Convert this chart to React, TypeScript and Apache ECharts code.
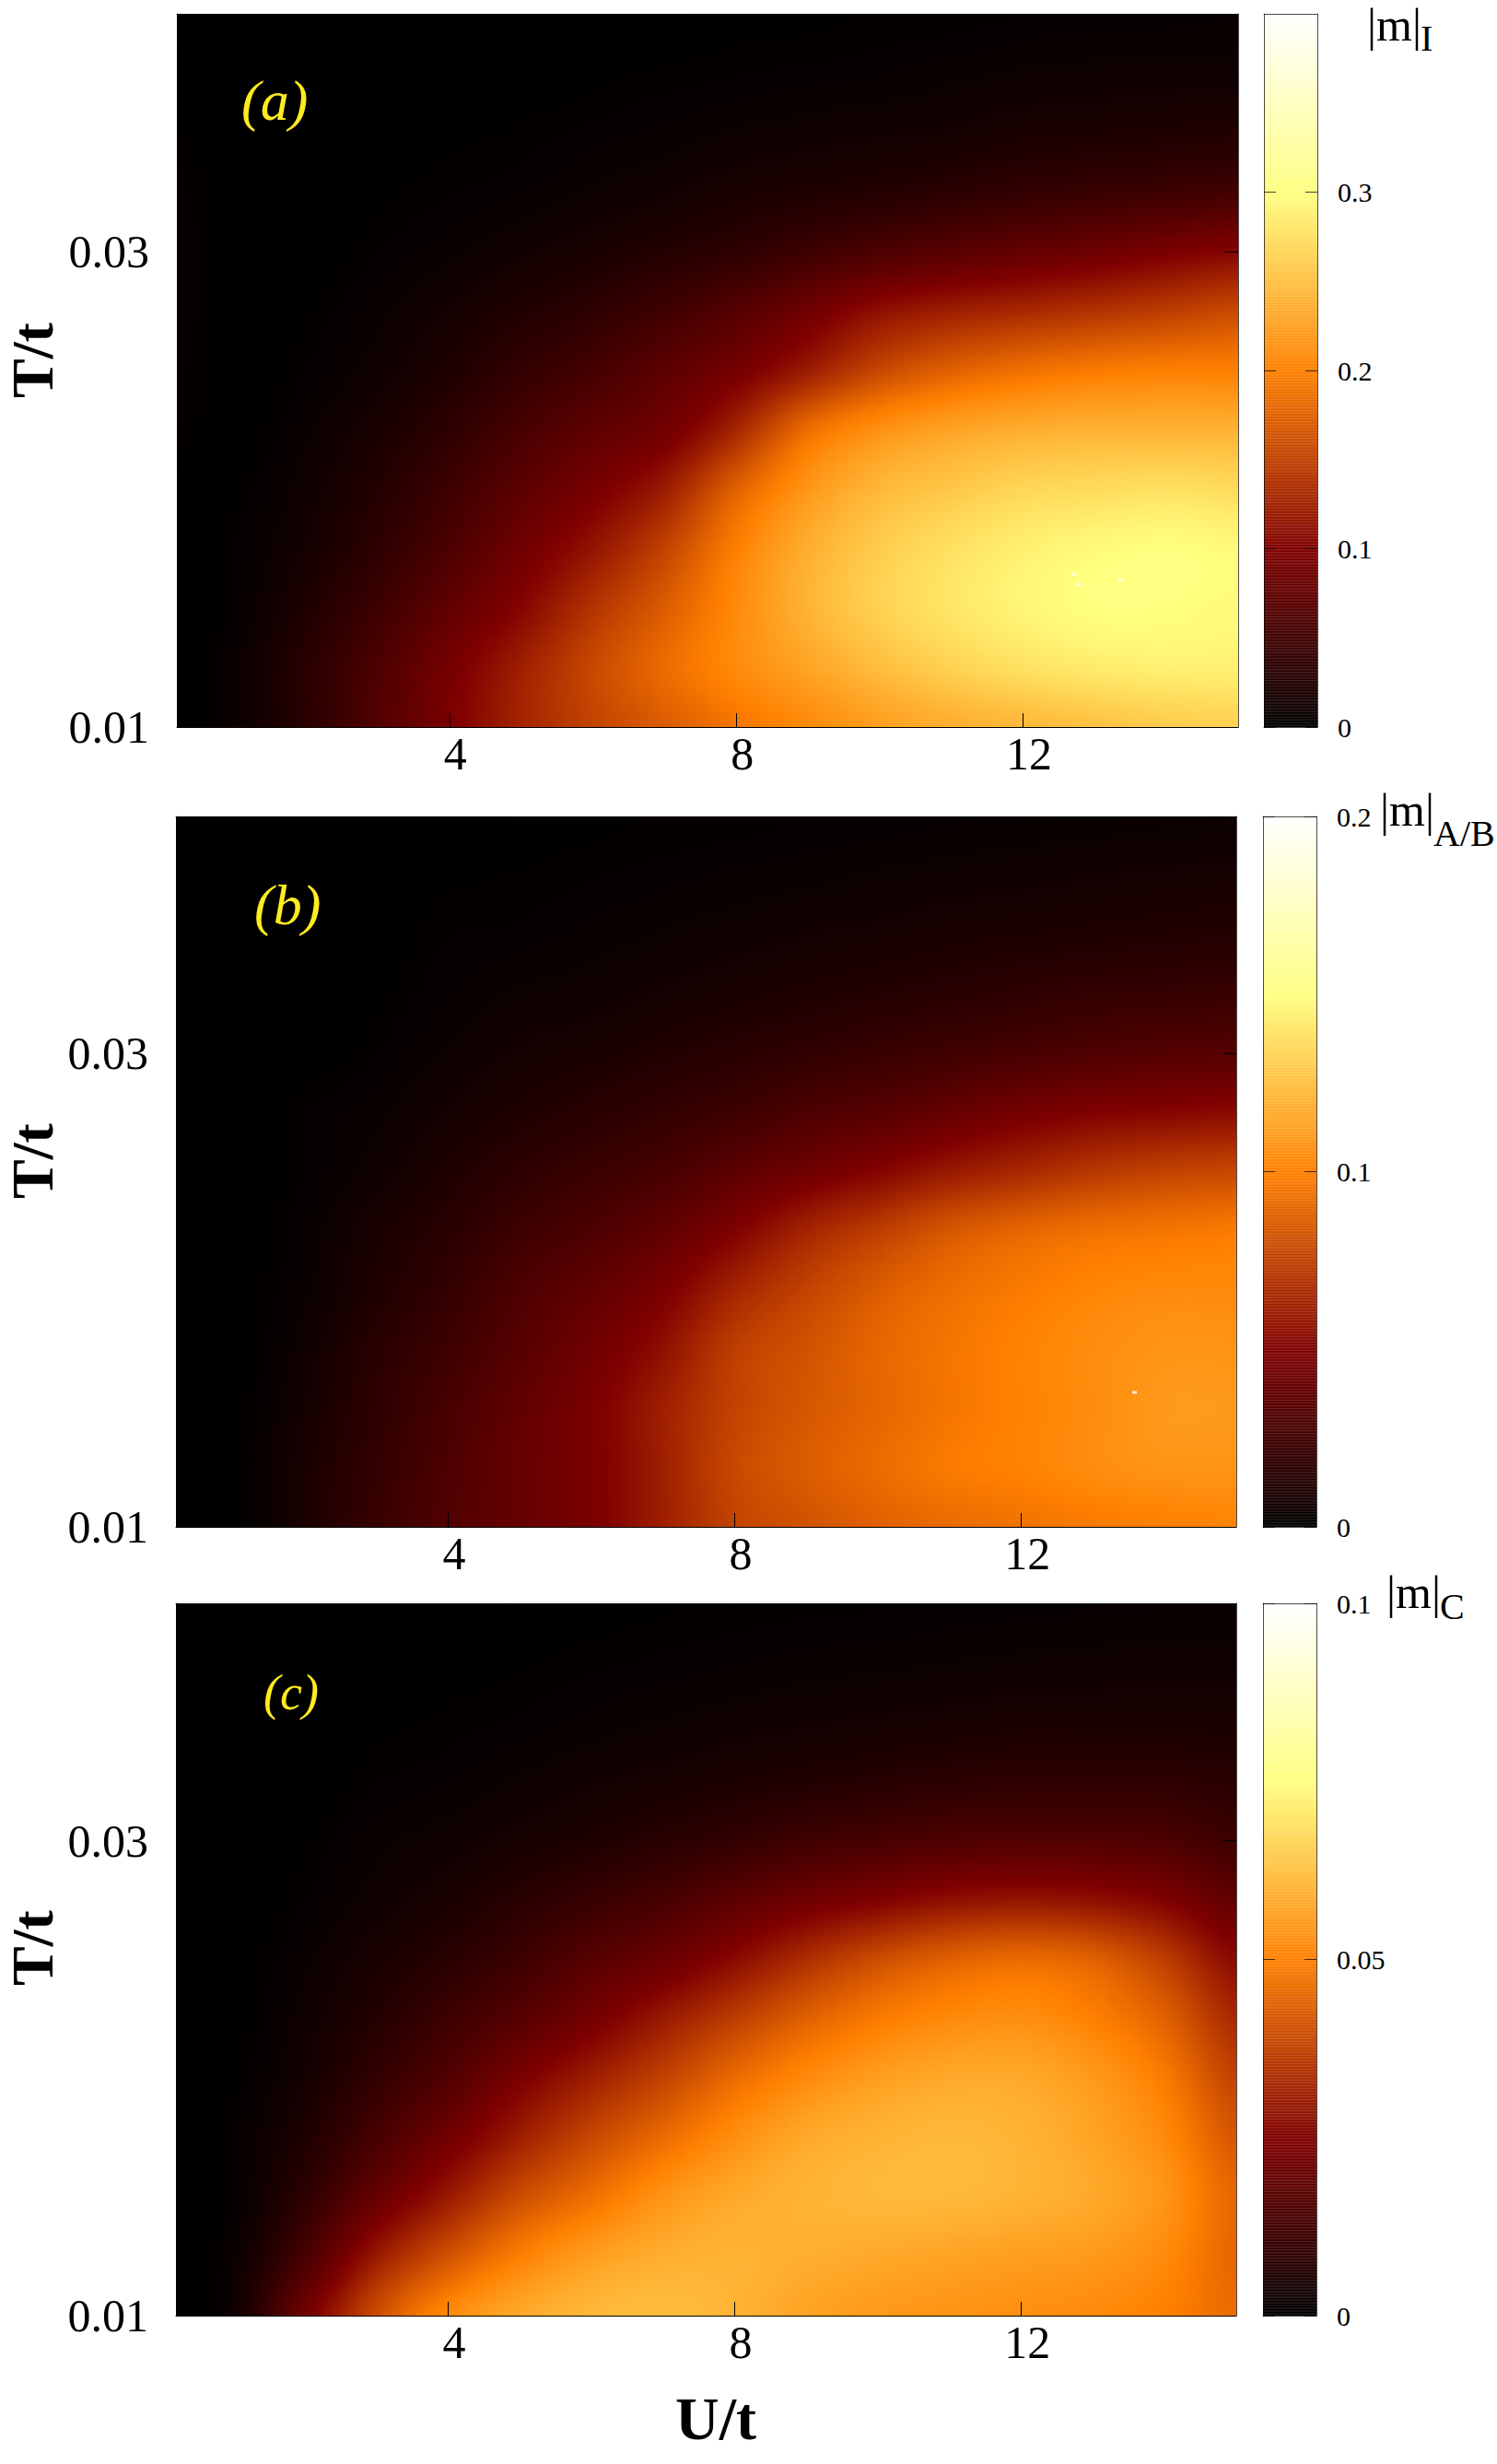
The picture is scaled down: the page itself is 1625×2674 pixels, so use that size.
import React, { useEffect, useRef } from "react";
import * as echarts from "echarts";

const U_NODES = [0.2, 1, 2, 3, 4, 5, 6, 7, 8, 9, 10, 11, 12, 13, 14, 15];
const T_NODES = [0.01, 0.0125, 0.015, 0.0175, 0.02, 0.0225, 0.025, 0.0275, 0.03, 0.0325, 0.035, 0.0375, 0.04];

const M_I = [
  [0, .008, .032, .064, .096, .128, .152, .172, .192, .208, .224, .236, .244, .252, .26, .264],
  [0, .008, .032, .06, .092, .124, .156, .184, .208, .228, .248, .264, .276, .284, .288, .288],
  [0, .004, .024, .048, .076, .104, .14, .172, .208, .24, .264, .28, .292, .3, .3, .296],
  [0, .004, .016, .036, .06, .088, .116, .152, .2, .236, .26, .276, .288, .296, .3, .296],
  [0, .002, .012, .028, .048, .072, .094, .122, .176, .218, .244, .256, .268, .272, .276, .272],
  [.004, 0, .008, .02, .036, .056, .074, .09, .13, .186, .214, .228, .236, .24, .24, .24],
  [.005, 0, .004, .012, .024, .04, .054, .072, .092, .122, .156, .176, .188, .196, .2, .2],
  [.006, 0, .002, .008, .016, .026, .036, .05, .066, .088, .112, .124, .132, .14, .148, .158],
  [.006, 0, 0, .004, .008, .014, .02, .028, .036, .048, .06, .07, .078, .086, .096, .104],
  [.005, 0, 0, .002, .004, .006, .01, .014, .02, .024, .028, .034, .04, .044, .048, .052],
  [.003, 0, 0, 0, .002, .003, .005, .007, .01, .012, .014, .016, .02, .022, .024, .026],
  [.002, 0, 0, 0, 0, .001, .002, .003, .004, .005, .006, .008, .01, .011, .012, .012],
  [0, 0, 0, 0, 0, 0, .001, .001, .002, .002, .003, .003, .004, .005, .005, .006],
];
const M_AB = [
  [0, 0, .01, .022, .032, .04, .048, .062, .076, .082, .088, .092, .095, .098, .1, .102],
  [0, 0, .01, .02, .03, .04, .048, .062, .078, .086, .092, .098, .101, .105, .108, .108],
  [0, 0, .008, .018, .028, .038, .048, .062, .076, .084, .09, .096, .101, .105, .11, .11],
  [0, 0, .006, .016, .024, .034, .044, .056, .074, .082, .09, .096, .101, .105, .108, .108],
  [0, 0, .004, .012, .02, .03, .038, .048, .064, .076, .086, .093, .098, .102, .104, .104],
  [0, 0, .003, .01, .016, .024, .03, .038, .05, .064, .074, .084, .09, .094, .096, .098],
  [0, 0, .002, .006, .012, .018, .023, .028, .036, .044, .052, .06, .066, .072, .076, .078],
  [0, 0, .002, .004, .008, .012, .016, .02, .024, .03, .034, .04, .046, .05, .052, .054],
  [0, 0, 0, .002, .005, .008, .01, .013, .016, .019, .022, .025, .028, .031, .033, .034],
  [0, 0, 0, .001, .003, .005, .006, .008, .01, .012, .014, .016, .018, .02, .021, .022],
  [0, 0, 0, 0, .002, .0024, .0036, .0048, .006, .0074, .0084, .01, .011, .012, .013, .014],
  [0, 0, 0, 0, .001, .0014, .002, .0026, .0034, .004, .0048, .0056, .0064, .0072, .008, .0084],
  [0, 0, 0, 0, 0, .0006, .001, .0014, .0016, .002, .0024, .0028, .0032, .0036, .004, .0044],
];
const M_C = [
  [0, .003, .022, .04, .052, .058, .061, .062, .06, .057, .055, .054, .053, .052, .05, .046],
  [0, .002, .014, .03, .041, .05, .056, .059, .06, .059, .058, .057, .056, .055, .052, .045],
  [0, .001, .009, .02, .03, .04, .047, .054, .058, .06, .061, .061, .06, .058, .054, .045],
  [0, .001, .006, .014, .022, .031, .039, .046, .053, .058, .06, .061, .06, .057, .052, .042],
  [0, .0005, .004, .01, .016, .024, .031, .038, .046, .052, .056, .058, .058, .055, .049, .038],
  [0, 0, .003, .007, .012, .017, .023, .03, .037, .044, .049, .052, .053, .05, .044, .033],
  [0, 0, .002, .005, .008, .012, .017, .021, .027, .034, .04, .044, .046, .044, .037, .027],
  [0, 0, .001, .003, .005, .008, .011, .014, .018, .022, .025, .028, .029, .028, .025, .019],
  [0, 0, .0005, .002, .003, .0045, .006, .008, .01, .0125, .014, .0155, .016, .016, .015, .012],
  [0, 0, 0, .001, .0015, .0025, .0035, .0045, .0055, .0065, .0075, .0085, .009, .009, .009, .008],
  [0, 0, 0, .0005, .0008, .0012, .0018, .0024, .003, .0035, .004, .0045, .005, .005, .005, .005],
  [0, 0, 0, 0, .0004, .0006, .0009, .0012, .0015, .0018, .002, .0023, .0026, .0028, .003, .003],
  [0, 0, 0, 0, 0, .0003, .0004, .0006, .0008, .0009, .001, .0012, .0013, .0014, .0015, .0016],
];

const X_TICKS = [4, 8, 12];
const Y_TICKS = [0.01, 0.03];
const CB_TICKS_I = [0, 0.1, 0.2, 0.3];
const CB_TICKS_AB = [0, 0.1, 0.2];
const CB_TICKS_C = [0, 0.05, 0.1];
const SPECKS_I = [[12.71, 0.01643], [12.78, 0.0160], [13.36, 0.01616]];
const SPECKS_AB = [[13.58, 0.01568]];

const SERIF = "Liberation Serif";
const clamp01 = (x: number) => Math.max(0, Math.min(1, x));
// AFM-hot palette (gnuplot rgbformulae 34,35,36)
const rgb = (f: number) => {
  const r = clamp01(2 * f), g = clamp01(2 * f - 0.5), b = clamp01(2 * f - 1);
  return [r * 255, g * 255, b * 255];
};
const css = (c: number[]) => `rgb(${Math.round(c[0])},${Math.round(c[1])},${Math.round(c[2])})`;
const cr = (a: number, b: number, c: number, d: number, t: number) =>
  0.5 * (2 * b + (c - a) * t + (2 * a - 5 * b + 4 * c - d) * t * t + (3 * b - a - 3 * c + d) * t * t * t);

// Smooth shading of one table row span, like gnuplot's "pm3d interpolate".
function fieldRenderer(table: number[][], max: number) {
  return (_p: any, api: any) => {
    const j = api.value(0) as number;
    const nRow = table.length;
    const nCol = U_NODES.length;
    const yBot = Math.round(api.coord([U_NODES[0], T_NODES[j]])[1]);
    const yTop = Math.round(api.coord([U_NODES[0], T_NODES[j + 1]])[1]);
    const xL = api.coord([U_NODES[0], T_NODES[0]])[0];
    const xR = api.coord([U_NODES[nCol - 1], T_NODES[0]])[0];
    const children: any[] = [];
    const step = 3;
    for (let y = yTop; y < yBot; y += step) {
      const h = Math.min(step, yBot - y);
      const t = (yBot - (y + h / 2)) / (yBot - yTop);
      const r0 = table[Math.max(0, j - 1)], r1 = table[j], r2 = table[j + 1], r3 = table[Math.min(nRow - 1, j + 2)];
      const row = U_NODES.map((_u, i) => cr(r0[i], r1[i], r2[i], r3[i], t));
      const stops: any[] = [];
      for (let i = 0; i < nCol - 1; i++) {
        const x0 = api.coord([U_NODES[i], T_NODES[0]])[0];
        const x1 = api.coord([U_NODES[i + 1], T_NODES[0]])[0];
        for (let k = 0; k < 5; k++) {
          const s = k / 5;
          const v = cr(row[Math.max(0, i - 1)], row[i], row[i + 1], row[Math.min(nCol - 1, i + 2)], s);
          stops.push({ offset: (x0 + (x1 - x0) * s - xL) / (xR - xL), color: css(rgb(clamp01(v / max))) });
        }
      }
      stops.push({ offset: 1, color: css(rgb(clamp01(row[nCol - 1] / max))) });
      children.push({
        type: "rect",
        shape: { x: xL, y, width: xR - xL, height: Math.min(h + 1, yBot - y + (j === 0 ? 0 : 1)) },
        style: { fill: new echarts.graphic.LinearGradient(0, 0, 1, 0, stops) },
        silent: true,
      });
    }
    return { type: "group", children };
  };
}

function barRenderer(max: number) {
  return (_p: any, api: any) => {
    const lo = api.value(0) as number, hi = api.value(1) as number;
    const a = api.coord([0, lo]), b = api.coord([1, hi]);
    const base = rgb((lo + hi) / 2 / max);
    const light = base.map((c) => c + (255 - c) * 0.13);
    const h = a[1] - b[1];
    return {
      type: "group",
      children: [
        { type: "rect", shape: { x: a[0], y: b[1], width: b[0] - a[0], height: h + 0.5 }, style: { fill: css(base) } },
        { type: "rect", shape: { x: a[0], y: b[1], width: b[0] - a[0], height: h * 0.62 }, style: { fill: css(light) } },
      ],
    };
  };
}

const PANELS = [
  { table: M_I, max: 0.4, ticks: CB_TICKS_I, specks: SPECKS_I, g: { left: 192, top: 15, width: 1152, height: 774 }, cb: { left: 1372, top: 15, width: 58, height: 774 } },
  { table: M_AB, max: 0.2, ticks: CB_TICKS_AB, specks: SPECKS_AB, g: { left: 191, top: 886, width: 1151, height: 771 }, cb: { left: 1371, top: 886, width: 58, height: 771 } },
  { table: M_C, max: 0.1, ticks: CB_TICKS_C, specks: [] as number[][], g: { left: 191, top: 1740, width: 1151, height: 773 }, cb: { left: 1371, top: 1740, width: 58, height: 773 } },
];

const EDGE = "rgba(0,0,0,0.7)";
const labels = (size: number, margin: number, extra: any = {}) => ({
  show: true, fontFamily: SERIF, fontSize: size, color: "#000", margin, ...extra,
});
// y is the text's baseline
const txt = (text: string, x: number, y: number, fontSize: number, style: any = {}) => ({
  type: "text", x, y: y - 0.86 * fontSize, silent: true, z: 100,
  style: { text, fontFamily: SERIF, fontSize, fill: "#000", ...style },
});
const rotTxt = (text: string, x: number, y: number, fontSize: number, style: any = {}) => ({
  type: "text", x, y, rotation: Math.PI / 2, silent: true, z: 100,
  style: { text, fontFamily: SERIF, fontSize, fill: "#000", ...style },
});

function buildOption() {
  const grid: any[] = [], xAxis: any[] = [], yAxis: any[] = [], series: any[] = [];
  const AZ = 10;
  PANELS.forEach((p, n) => {
    const g0 = grid.length;
    grid.push({ ...p.g, containLabel: false }, { ...p.cb, containLabel: false });
    const x0 = xAxis.length;
    xAxis.push(
      { type: "value", z: AZ, gridIndex: g0, min: U_NODES[0], max: 15, position: "bottom", splitLine: { show: false },
        axisLine: { show: true, onZero: false, lineStyle: { color: "#000", width: 1 } },
        axisTick: { show: true, inside: true, length: 15, customValues: X_TICKS, lineStyle: { color: "#000", width: 1 } },
        axisLabel: labels(50, 4, { customValues: X_TICKS, padding: [0, 0, 0, 13], formatter: (v: number) => String(v) }) },
      { type: "value", z: AZ, gridIndex: g0, min: U_NODES[0], max: 15, position: "top", splitLine: { show: false },
        axisLine: { show: true, onZero: false, lineStyle: { color: EDGE, width: 1 } },
        axisTick: { show: true, inside: true, length: 15, customValues: X_TICKS, lineStyle: { color: "#000", width: 1 } },
        axisLabel: { show: false } },
      { type: "value", z: AZ, gridIndex: g0 + 1, min: 0, max: 1, position: "bottom", splitLine: { show: false },
        axisLine: { show: true, onZero: false, lineStyle: { color: EDGE } }, axisTick: { show: false }, axisLabel: { show: false } },
      { type: "value", z: AZ, gridIndex: g0 + 1, min: 0, max: 1, position: "top", splitLine: { show: false },
        axisLine: { show: true, onZero: false, lineStyle: { color: EDGE } }, axisTick: { show: false }, axisLabel: { show: false } },
    );
    const y0 = yAxis.length;
    yAxis.push(
      { type: "value", z: AZ, gridIndex: g0, min: 0.01, max: 0.04, position: "left", splitLine: { show: false },
        axisLine: { show: true, onZero: false, lineStyle: { color: EDGE, width: 1 } },
        axisTick: { show: true, inside: true, length: 15, customValues: Y_TICKS, lineStyle: { color: "#000", width: 1 } },
        axisLabel: labels(50, 30, { customValues: Y_TICKS, formatter: (v: number) => v.toFixed(2) }) },
      { type: "value", z: AZ, gridIndex: g0, min: 0.01, max: 0.04, position: "right", splitLine: { show: false },
        axisLine: { show: true, onZero: false, lineStyle: { color: EDGE, width: 1 } },
        axisTick: { show: true, inside: true, length: 15, customValues: Y_TICKS, lineStyle: { color: "#000", width: 1 } },
        axisLabel: { show: false } },
      { type: "value", z: AZ, gridIndex: g0 + 1, min: 0, max: p.max, position: "right", splitLine: { show: false },
        axisLine: { show: true, onZero: false, lineStyle: { color: EDGE } },
        axisTick: { show: true, inside: true, length: 13, customValues: p.ticks, lineStyle: { color: EDGE } },
        axisLabel: labels(30, 22, { customValues: p.ticks, formatter: (v: number) => String(v) }) },
      { type: "value", z: AZ, gridIndex: g0 + 1, min: 0, max: p.max, position: "left", splitLine: { show: false },
        axisLine: { show: true, onZero: false, lineStyle: { color: EDGE } },
        axisTick: { show: true, inside: true, length: 13, customValues: p.ticks, lineStyle: { color: EDGE } },
        axisLabel: { show: false } },
    );
    series.push({
      type: "custom", name: ["|m|I", "|m|A/B", "|m|C"][n], xAxisIndex: x0, yAxisIndex: y0, clip: true, silent: true, z: 1,
      renderItem: fieldRenderer(p.table, p.max),
      encode: { x: 1, y: 2 },
      data: T_NODES.slice(0, -1).map((t, j) => [j, U_NODES[0], t]),
    });
    if (p.specks.length) {
      series.push({
        type: "scatter", xAxisIndex: x0, yAxisIndex: y0, symbol: "rect", symbolSize: [5, 3], silent: true, z: 2,
        itemStyle: { color: "#fff" }, data: p.specks,
      });
    }
    const levels = 256;
    series.push({
      type: "custom", xAxisIndex: x0 + 2, yAxisIndex: y0 + 2, clip: true, silent: true, z: 1,
      renderItem: barRenderer(p.max),
      encode: { y: [0, 1] },
      data: Array.from({ length: levels }, (_, i) => [(i / levels) * p.max, ((i + 1) / levels) * p.max]),
    });
  });
  const yellow = "#ffec1f";
  const italic = { fontStyle: "italic", fill: yellow };
  const bold = { fontWeight: "bold" };
  const graphic = [
    txt("(a)", 262, 131, 62, italic),
    txt("(b)", 276, 1004, 62, italic),
    txt("(c)", 286, 1856, 54, italic),
    txt("|m|", 1484, 45, 50),
    txt("I", 1542, 56, 40),
    txt("|m|", 1498, 897, 50),
    txt("A/B", 1556, 919, 40),
    txt("|m|", 1505, 1746, 50),
    txt("C", 1563, 1758, 40),
    txt("U/t", 733, 2648, 66, bold),
    rotTxt("T/t", 3, 432, 64, bold),
    rotTxt("T/t", 3, 1301, 64, bold),
    rotTxt("T/t", 3, 2155, 64, bold),
  ];
  return { animation: false, backgroundColor: "#fff", grid, xAxis, yAxis, series, graphic };
}

export default function App() {
  const ref = useRef<HTMLDivElement>(null);
  useEffect(() => {
    document.body.style.margin = "0";
    const chart = echarts.init(ref.current!, undefined, { renderer: "svg" });
    chart.setOption(buildOption() as any);
    return () => chart.dispose();
  }, []);
  return <div ref={ref} style={{ width: 1625, height: 2674, overflow: "hidden" }} />;
}
